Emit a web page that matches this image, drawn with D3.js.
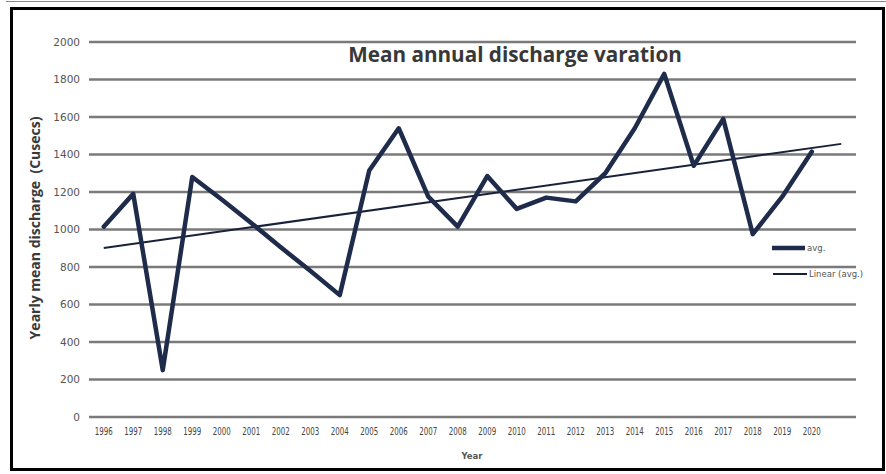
<!DOCTYPE html>
<html>
<head>
<meta charset="utf-8">
<script src="https://cdn.jsdelivr.net/npm/d3@7"></script>
<style>
  html, body { margin: 0; padding: 0; background: #fff; }
  svg { display: block; }
</style>
</head>
<body>
<svg id="chart" width="886" height="474"></svg>
<script>
// Yearly mean discharge (cusecs), 1996-2020
const years = [1996, 1997, 1998, 1999, 2000, 2001, 2002, 2003, 2004, 2005, 2006, 2007,
               2008, 2009, 2010, 2011, 2012, 2013, 2014, 2015, 2016, 2017, 2018, 2019, 2020];
const avgDischarge = [1015, 1190, 250, 1280, 1160, 1035, 905, 780, 650, 1315, 1540, 1175,
                      1015, 1285, 1110, 1170, 1150, 1300, 1540, 1830, 1340, 1590, 975, 1175, 1415];
const yTicks = [0, 200, 400, 600, 800, 1000, 1200, 1400, 1600, 1800, 2000];
const forecastYears = 1;   // trendline is projected one period ahead

const titleText = "Mean annual discharge varation";
const yTitle = "Yearly mean discharge  (Cusecs)";
const xTitle = "Year";
const legendLabels = ["avg.", "Linear (avg.)"];

const svg = d3.select("#chart");
const lineColor = "#1f2b4b";

// frame
svg.append("line").attr("x1", 6).attr("x2", 886).attr("y1", 1.5).attr("y2", 1.5)
  .attr("stroke", "#8a8a8a").attr("stroke-width", 1);
svg.append("rect").attr("x", 11.5).attr("y", 8.5).attr("width", 872).attr("height", 461)
  .attr("fill", "none").attr("stroke", "#000").attr("stroke-width", 3);

// scales: one slot per year, plus the projected year for the trendline
const slots = d3.range(years[0], years[years.length - 1] + forecastYears + 1);
const x = d3.scaleBand().domain(slots).range([89, 856]).padding(0);
const cx = yr => x(yr) + x.bandwidth() / 2;
const y = d3.scaleLinear().domain([0, 2000]).range([417, 42]);

// horizontal gridlines
svg.append("g").selectAll("line").data(yTicks).join("line")
  .attr("x1", 89).attr("x2", 856)
  .attr("y1", d => y(d)).attr("y2", d => y(d))
  .attr("stroke", "#7a7a7a").attr("stroke-width", 2.7);

// y axis labels
const yAxis = d3.axisLeft(y).tickValues(yTicks).tickFormat(d3.format("d")).tickSize(0).tickPadding(0);
const gy = svg.append("g").attr("transform", "translate(80,0)").call(yAxis);
gy.select(".domain").remove();
gy.selectAll("text").attr("font-family", "DejaVu Sans").attr("font-size", 10.5)
  .attr("fill", "#555");

// x axis labels
const xAxis = d3.axisBottom(x).tickValues(years).tickSize(0).tickPadding(0);
const gx = svg.append("g").attr("transform", "translate(0,428)").call(xAxis);
gx.select(".domain").remove();
gx.selectAll("text").attr("font-family", "DejaVu Sans").attr("font-size", 10)
  .attr("fill", "#444").attr("textLength", 18).attr("lengthAdjust", "spacingAndGlyphs");

// linear trendline (least squares over the series, extended by the forecast)
const n = avgDischarge.length;
const idx = d3.range(n);
const mx = d3.mean(idx), my = d3.mean(avgDischarge);
const sxy = d3.sum(idx, i => (i - mx) * (avgDischarge[i] - my));
const sxx = d3.sum(idx, i => (i - mx) * (i - mx));
const slope = sxy / sxx, intercept = my - slope * mx;
const trendPts = [0, n - 1 + forecastYears].map(i => [cx(years[0] + i), y(intercept + slope * i)]);

svg.append("path")
  .attr("d", d3.line()(trendPts))
  .attr("fill", "none").attr("stroke", "#18213a").attr("stroke-width", 2);

// data line
const line = d3.line().x((d, i) => cx(years[i])).y(d => y(d));
svg.append("path").datum(avgDischarge)
  .attr("d", line)
  .attr("fill", "none").attr("stroke", lineColor).attr("stroke-width", 4.5)
  .attr("stroke-linejoin", "round").attr("stroke-linecap", "round");

// title
svg.append("text").attr("x", 515).attr("y", 62).attr("text-anchor", "middle")
  .attr("font-family", "Open Sans").attr("font-weight", "bold").attr("font-size", 20.7)
  .attr("fill", "#383838").text(titleText);

// axis titles
svg.append("text").attr("transform", "translate(40,228) rotate(-90)")
  .attr("text-anchor", "middle").attr("font-family", "Open Sans").attr("font-weight", "bold")
  .attr("font-size", 14).attr("fill", "#3a3a3a").style("white-space", "pre").text(yTitle);
svg.append("text").attr("x", 472).attr("y", 459).attr("text-anchor", "middle")
  .attr("font-family", "DejaVu Sans").attr("font-weight", "bold").attr("font-size", 8.5)
  .attr("fill", "#555").text(xTitle);

// legend
const legend = svg.append("g");
const legendRows = [
  { label: legendLabels[0], width: 4.5, y: 248, x1: 772, x2: 805 },
  { label: legendLabels[1], width: 2, y: 274, x1: 773, x2: 807 }
];
legend.selectAll("line").data(legendRows).join("line")
  .attr("x1", d => d.x1).attr("x2", d => d.x2).attr("y1", d => d.y).attr("y2", d => d.y)
  .attr("stroke", (d, i) => i === 0 ? lineColor : "#18213a").attr("stroke-width", d => d.width);
legend.selectAll("text").data(legendRows).join("text")
  .attr("x", d => d.x2 + 2).attr("y", d => d.y + 3)
  .attr("font-family", "DejaVu Sans").attr("font-size", 8.5).attr("fill", "#555")
  .text(d => d.label);
</script>
</body>
</html>
